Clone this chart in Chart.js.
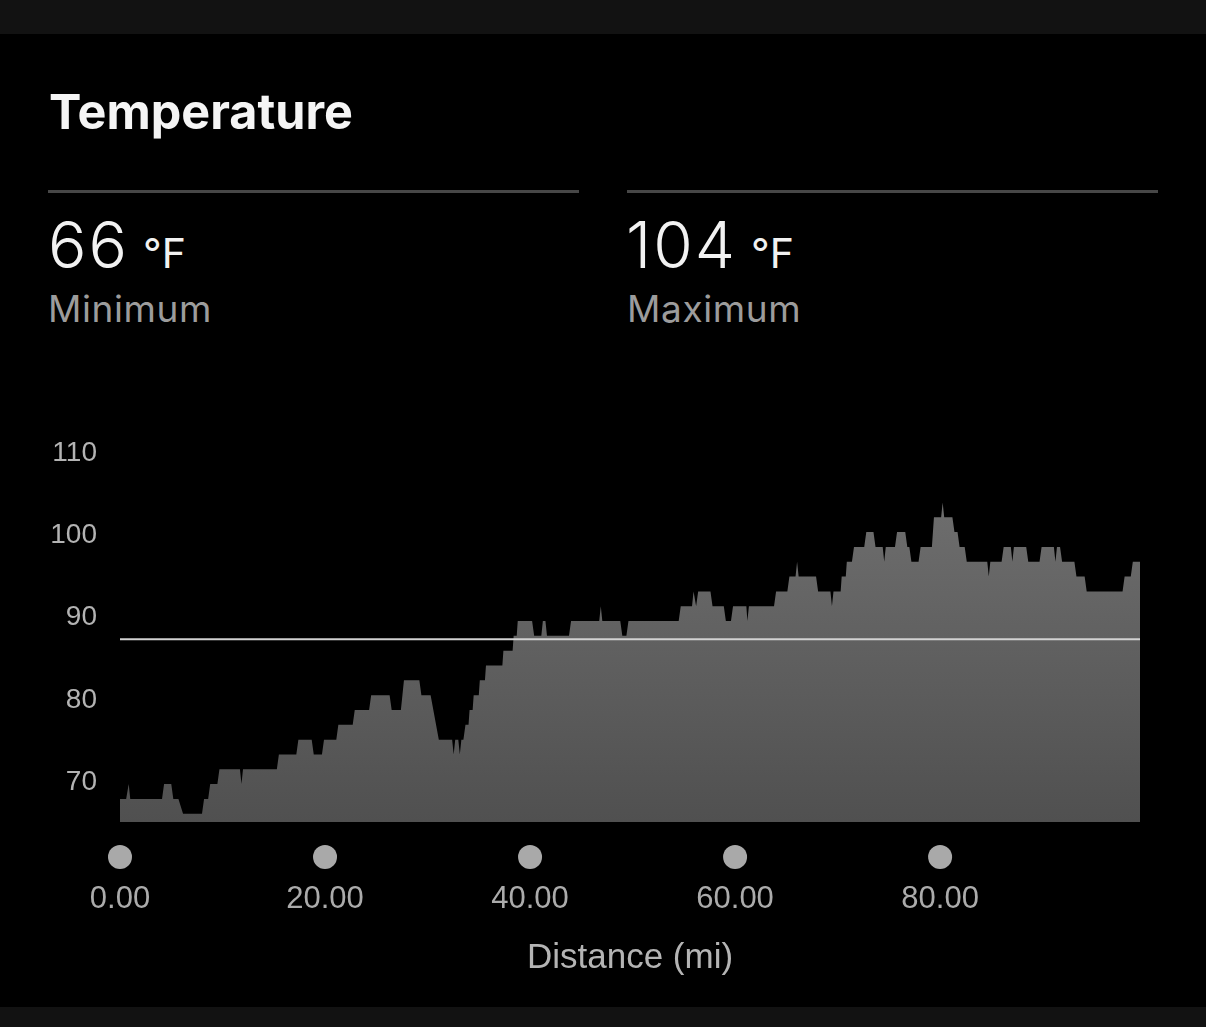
<!DOCTYPE html>
<html>
<head>
<meta charset="utf-8">
<script src="https://cdn.jsdelivr.net/npm/chart.js@4.4.0/dist/chart.umd.min.js"></script>
<style>
  html, body { margin: 0; padding: 0; background: #000; }
  body { width: 1206px; height: 1027px; position: relative; overflow: hidden; font-family: Inter, "Noto Sans", sans-serif; }
  .strip { position: absolute; left: 0; width: 1206px; background: #121212; }
  .title { position: absolute; left: 49px; top: 88px; font-size: 48.5px; line-height: 1; font-weight: 700; color: #f5f5f5; }
  .rule { position: absolute; top: 190px; height: 3px; width: 531px; background: #474747; }
  .big { position: absolute; top: 213px; font-size: 64px; line-height: 1; font-weight: 300; color: #f2f2f2; white-space: nowrap; letter-spacing: 2px; }
  .big span { font-size: 41px; margin-left: 14px; font-weight: 400; letter-spacing: 0; }
  .label { position: absolute; top: 290px; font-size: 37px; line-height: 1; color: #9c9c9c; letter-spacing: 0.6px; }
  #wrap { position: absolute; left: 0; top: 400px; width: 1206px; height: 600px; }
</style>
</head>
<body>
<div class="strip" style="top:0;height:34px"></div>
<div class="strip" style="top:1007px;height:20px"></div>

<div class="title">Temperature</div>

<div class="rule" style="left:48px"></div>
<div class="rule" style="left:627px"></div>

<div class="big" style="left:48px">66<span>°F</span></div>
<div class="label" style="left:48px">Minimum</div>

<div class="big" style="left:626px">104<span>°F</span></div>
<div class="label" style="left:627px">Maximum</div>

<div id="wrap"><canvas id="myChart" width="1206" height="600"></canvas></div>

<script>
// distance along the route (mi) and temperature (°F)
var distanceMi = [
  0.0, 0.6, 0.85, 1.0, 4.1, 4.3, 5.0, 5.2, 5.7, 6.15, 8.0, 8.2, 8.6, 8.8, 9.5, 9.7,
  11.7, 11.85, 12.0, 15.3, 15.5, 17.2, 17.4, 18.7, 18.9, 19.7, 19.9, 21.1, 21.3, 22.7,
  22.9, 24.3, 24.5, 26.3, 26.5, 27.4, 27.55, 27.7, 29.2, 29.4, 30.3, 31.1, 32.4, 32.55,
  32.7, 33.0, 33.15, 33.3, 33.5, 33.7, 34.0, 34.1, 34.4, 34.5, 35.0, 35.1, 35.6, 35.7,
  37.3, 37.4, 38.3, 38.4, 38.7, 38.8, 40.2, 40.4, 41.1, 41.25, 41.5, 41.65, 43.8, 44.0,
  46.75, 46.9, 47.05, 48.8, 49.0, 49.4, 49.6, 54.5, 54.7, 55.8, 55.95, 56.2, 56.4, 57.6,
  57.8, 58.9, 59.1, 59.6, 59.8, 61.1, 61.2, 61.35, 63.8, 64.0, 65.1, 65.3, 65.9, 66.05,
  66.2, 67.9, 68.1, 69.3, 69.45, 69.6, 70.3, 70.4, 70.8, 70.9, 71.4, 71.6, 72.6, 72.8,
  73.5, 73.7, 74.4, 74.55, 74.7, 75.6, 75.8, 76.6, 76.8, 77.0, 77.2, 77.9, 78.1, 79.2,
  79.4, 80.1, 80.25, 80.4, 81.2, 81.4, 81.7, 81.9, 82.4, 82.6, 84.6, 84.75, 84.9, 86.0,
  86.2, 86.9, 87.05, 87.2, 88.4, 88.6, 89.7, 89.9, 91.1, 91.25, 91.4, 91.7, 91.9, 93.1,
  93.3, 94.1, 94.3, 97.8, 98.0, 98.6, 98.8, 99.5
];
var temperatureF = [
  68, 68, 69.8, 68, 68, 69.8, 69.8, 68, 68, 66.2, 66.2, 68, 68, 69.8, 69.8, 71.6,
  71.6, 69.8, 71.6, 71.6, 73.4, 73.4, 75.2, 75.2, 73.4, 73.4, 75.2, 75.2, 77, 77,
  78.8, 78.8, 80.6, 80.6, 78.8, 78.8, 80.6, 82.4, 82.4, 80.6, 80.6, 75.2, 75.2, 73.4,
  75.2, 75.2, 73.4, 75.2, 75.2, 77, 77, 78.8, 78.8, 80.6, 80.6, 82.4, 82.4, 84.2,
  84.2, 86, 86, 87.8, 87.8, 89.6, 89.6, 87.8, 87.8, 89.6, 89.6, 87.8, 87.8, 89.6,
  89.6, 91.4, 89.6, 89.6, 87.8, 87.8, 89.6, 89.6, 91.4, 91.4, 93.2, 91.4, 93.2, 93.2,
  91.4, 91.4, 89.6, 89.6, 91.4, 91.4, 89.6, 91.4, 91.4, 93.2, 93.2, 95, 95, 96.8,
  95, 95, 93.2, 93.2, 91.4, 93.2, 93.2, 95, 95, 96.8, 96.8, 98.6, 98.6, 100.4,
  100.4, 98.6, 98.6, 96.8, 98.6, 98.6, 100.4, 100.4, 98.6, 98.6, 96.8, 96.8, 98.6, 98.6,
  102.2, 102.2, 104, 102.2, 102.2, 100.4, 100.4, 98.6, 98.6, 96.8, 96.8, 95, 96.8, 96.8,
  98.6, 98.6, 96.8, 98.6, 98.6, 96.8, 96.8, 98.6, 98.6, 96.8, 98.6, 98.6, 96.8, 96.8,
  95, 95, 93.2, 93.2, 95, 95, 96.8, 96.8
];
var averageF = 87.4;
var xTicks = [0, 20, 40, 60, 80];
var yTicks = [70, 80, 90, 100, 110];

var tempPoints = distanceMi.map(function(d, i) { return { x: d, y: temperatureF[i] }; });
var avgPoints = [
  { x: distanceMi[0], y: averageF },
  { x: distanceMi[distanceMi.length - 1], y: averageF }
];

function areaFill(context) {
  var area = context.chart.chartArea;
  if (!area) return '#5e5e5e';
  var g = context.chart.ctx.createLinearGradient(0, area.top, 0, area.bottom);
  g.addColorStop(0, '#727272');
  g.addColorStop(1, '#505050');
  return g;
}

// grey dots sitting above the distance labels
var tickDots = {
  id: 'tickDots',
  afterDraw: function(chart) {
    var ctx = chart.ctx, sx = chart.scales.x;
    ctx.save();
    ctx.fillStyle = '#a9a9a9';
    sx.ticks.forEach(function(t) {
      ctx.beginPath();
      ctx.arc(sx.getPixelForValue(t.value), chart.chartArea.bottom + 35, 12, 0, Math.PI * 2);
      ctx.fill();
    });
    ctx.restore();
  }
};

function charts() {
  var ctx = document.getElementById('myChart').getContext('2d');
  var myChart = new Chart(ctx, {
    type: 'line',
    data: {
      datasets: [{
        label: 'Average',
        data: avgPoints,
        borderColor: '#d2d2d2',
        borderWidth: 2,
        pointRadius: 0,
        fill: false,
        order: 0
      },
      {
        label: 'Temperature',
        data: tempPoints,
        borderColor: 'rgba(0,0,0,0)',
        borderWidth: 1,
        backgroundColor: areaFill,
        pointRadius: 0,
        tension: 0,
        fill: 'start',
        order: 1
      }]
    },
    options: {
      responsive: false,
      animation: false,
      events: [],
      layout: { padding: { top: 53, right: 66, bottom: 0, left: 0 } },
      plugins: { legend: { display: false }, tooltip: { enabled: false } },
      scales: {
        x: {
          type: 'linear',
          min: 0,
          max: 99.5,
          grid: { display: false, drawTicks: false },
          border: { display: false },
          afterBuildTicks: function(scale) {
            scale.ticks = xTicks.map(function(v) { return { value: v }; });
          },
          afterFit: function(scale) { scale.height = 178; },
          ticks: {
            padding: 59,
            color: '#ababab',
            font: { family: '"Liberation Sans", Arial, sans-serif', size: 31 },
            maxRotation: 0,
            callback: function(v) { return Number(v).toFixed(2); }
          },
          title: {
            display: true,
            text: 'Distance (mi)',
            color: '#b4b4b4',
            font: { family: '"Liberation Sans", Arial, sans-serif', size: 35 },
            padding: { top: 0, bottom: 21 }
          }
        },
        y: {
          min: 65.2,
          max: 110,
          grid: { display: false, drawTicks: false },
          border: { display: false },
          afterBuildTicks: function(scale) {
            scale.ticks = yTicks.map(function(v) { return { value: v }; });
          },
          afterFit: function(scale) { scale.width = 120; },
          ticks: {
            padding: 23,
            color: '#b3b3b3',
            font: { family: '"Liberation Sans", Arial, sans-serif', size: 28 }
          }
        }
      }
    },
    plugins: [tickDots]
  });
}

charts();
</script>
</body>
</html>
